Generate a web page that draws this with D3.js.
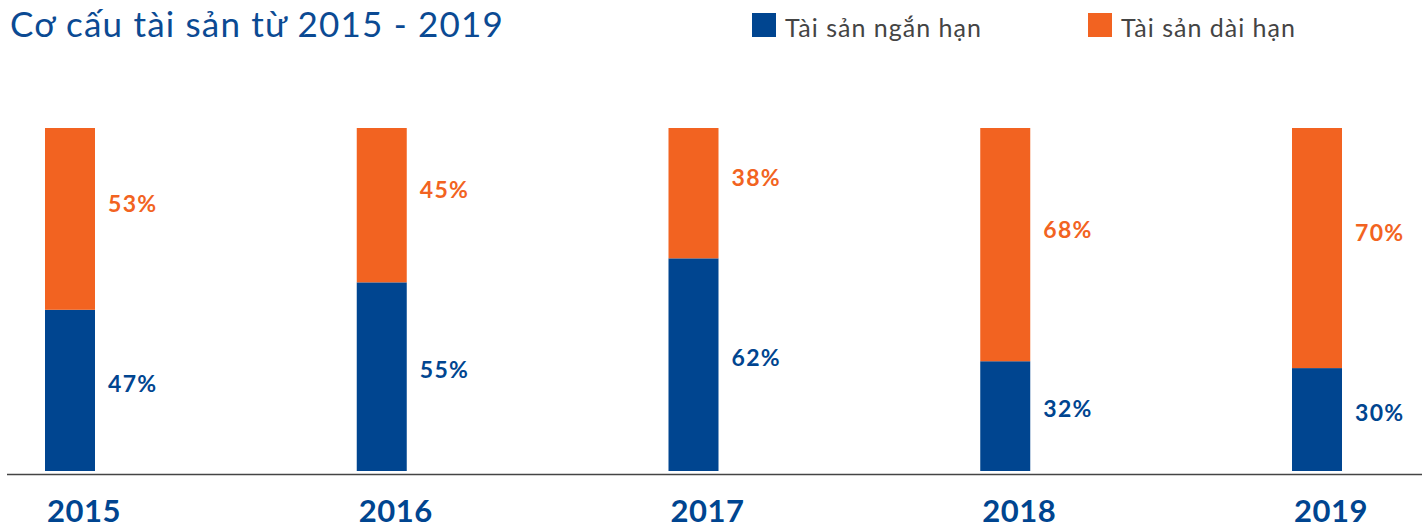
<!DOCTYPE html>
<html>
<head>
<meta charset="utf-8">
<script src="https://cdn.jsdelivr.net/npm/d3@7"></script>
<style>
  body { margin: 0; background: #fff; }
  text { font-family: Lato, "Open Sans", sans-serif; }
</style>
</head>
<body>
<div id="chart"></div>
<script>
// data
let years = ["2015", "2016", "2017", "2018", "2019"];
let shortTerm = [47, 55, 62, 32, 30];
let longTerm = [53, 45, 38, 68, 70];
let seriesNames = ["Tài sản ngắn hạn", "Tài sản dài hạn"];
let titleText = "Cơ cấu tài sản từ 2015 - 2019";

let width = 1427,
    height = 526;
let blue = "#004590",
    orange = "#f26321",
    titleColor = "#0b4a93";

let svg = d3.select("#chart")
  .append("svg")
  .attr("width", width)
  .attr("height", height);

let x = d3.scalePoint()
  .domain(years)
  .range([45, 1292]);

let y = d3.scaleLinear()
  .domain([0, 100])
  .range([471, 128]);

let barWidth = 50;

// title
svg.append("text")
  .attr("x", 10)
  .attr("y", 37)
  .attr("fill", titleColor)
  .style("font-size", "35px")
  .style("letter-spacing", "1.2px")
  .text(titleText);

// legend
let legendX = [752, 1088];
let legend = svg.selectAll("g.legend")
  .data(seriesNames)
  .enter().append("g")
  .attr("class", "legend")
  .attr("transform", function(d, i) { return "translate(" + legendX[i] + ",13)"; });

legend.append("rect")
  .attr("width", 24)
  .attr("height", 24)
  .attr("fill", function(d, i) { return i === 0 ? blue : orange; });

legend.append("text")
  .attr("x", 33)
  .attr("y", 24)
  .attr("fill", "#444")
  .style("font-size", "25px")
  .style("letter-spacing", "1px")
  .text(function(d) { return d; });

// stacked bars
let rows = years.map(function(yr, i) {
  return { year: yr, short: shortTerm[i], long: longTerm[i] };
});

let groups = svg.selectAll("g.bar")
  .data(rows)
  .enter().append("g")
  .attr("class", "bar");

groups.append("rect")
  .attr("x", function(d) { return x(d.year); })
  .attr("y", function(d) { return y(d.short); })
  .attr("width", barWidth)
  .attr("height", function(d) { return y(0) - y(d.short); })
  .attr("fill", blue);

groups.append("rect")
  .attr("x", function(d) { return x(d.year); })
  .attr("y", function(d) { return y(d.short + d.long); })
  .attr("width", barWidth)
  .attr("height", function(d) { return y(d.short) - y(d.short + d.long); })
  .attr("fill", orange);

// value labels
groups.append("text")
  .attr("x", function(d) { return x(d.year) + barWidth + 13; })
  .attr("y", function(d) { return (y(0) + y(d.short)) / 2 - 7; })
  .attr("dy", "0.36em")
  .attr("fill", blue)
  .style("font-size", "23px")
  .style("font-weight", "bold")
  .style("letter-spacing", "1.3px")
  .text(function(d) { return d.short + "%"; });

groups.append("text")
  .attr("x", function(d) { return x(d.year) + barWidth + 13; })
  .attr("y", function(d) { return (y(d.short) + y(d.short + d.long)) / 2 - 15; })
  .attr("dy", "0.36em")
  .attr("fill", orange)
  .style("font-size", "23px")
  .style("font-weight", "bold")
  .style("letter-spacing", "1.3px")
  .text(function(d) { return d.long + "%"; });

// baseline
svg.append("line")
  .attr("x1", 7)
  .attr("x2", 1422)
  .attr("y1", y(0) + 3.5)
  .attr("y2", y(0) + 3.5)
  .attr("stroke", "#444")
  .attr("stroke-width", 1.5);

// year labels
groups.append("text")
  .attr("x", function(d) { return x(d.year) + 2; })
  .attr("y", 522)
  .attr("fill", blue)
  .style("font-size", "31px")
  .style("font-weight", "bold")
  .style("letter-spacing", "0.5px")
  .text(function(d) { return d.year; });
</script>
</body>
</html>
